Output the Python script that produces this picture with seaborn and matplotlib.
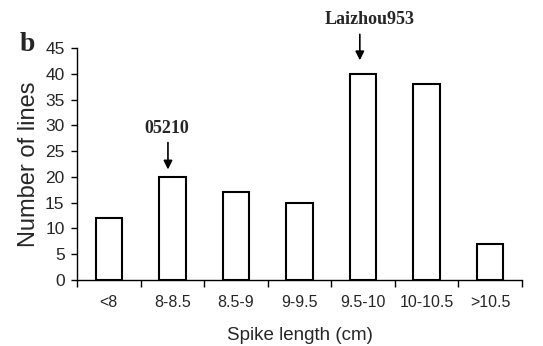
import matplotlib
matplotlib.use("Agg")
import matplotlib.pyplot as plt
import seaborn as sns
import pandas as pd
import numpy as np
from matplotlib.ticker import FixedLocator

categories = ["<8", "8-8.5", "8.5-9", "9-9.5", "9.5-10", "10-10.5", ">10.5"]
counts = [12, 20, 17, 15, 40, 38, 7]
yticks = [0, 5, 10, 15, 20, 25, 30, 35, 40, 45]

df = pd.DataFrame({"cat": categories, "n": counts})

sns.set_theme(style="white")
plt.rcParams["font.family"] = ["Liberation Sans", "DejaVu Sans"]

fig = plt.figure(figsize=(5.43, 3.46), dpi=100)
ax = fig.add_axes([0.142, 0.191, 0.819, 0.670])

sns.barplot(data=df, x="cat", y="n", ax=ax, color="white", edgecolor="black",
            linewidth=1.5, width=0.42, saturation=1)

ax.set_xlim(-0.5, len(categories) - 0.5)
ax.set_ylim(0, 45)
ax.set_yticks(yticks)
ax.set_yticklabels([str(v) for v in yticks], fontsize=12.5)
ax.set_xticks(range(len(categories)))
ax.set_xticklabels(categories, fontsize=11.5)
ax.xaxis.set_minor_locator(FixedLocator(np.arange(-0.5, len(categories), 1.0)))
ax.tick_params(axis="x", which="major", length=0, pad=11)
ax.tick_params(axis="x", which="minor", length=5, width=1, direction="out", color="black", bottom=True)
ax.tick_params(axis="y", which="major", length=4, width=1, direction="out", color="black", left=True, pad=5)

for s in ["top", "right"]:
    ax.spines[s].set_visible(False)
for s in ["left", "bottom"]:
    ax.spines[s].set_color("black")
    ax.spines[s].set_linewidth(1.0)

ax.set_ylabel("Number of lines", fontsize=17, labelpad=4)
ax.set_xlabel("Spike length (cm)", fontsize=13.5, labelpad=12)

# annotations
ann_font = dict(family=["Liberation Serif", "DejaVu Serif"], fontweight="bold", fontsize=13)
ax.annotate("", xy=(0.93, 20.9), xytext=(0.93, 27.2),
            arrowprops=dict(arrowstyle="-|>", color="black", lw=1.2, mutation_scale=13),
            annotation_clip=False)
ax.text(0.91, 29.3, "05210", ha="center", va="center", **ann_font)
ax.annotate("", xy=(3.95, 42.1), xytext=(3.95, 48.2),
            arrowprops=dict(arrowstyle="-|>", color="black", lw=1.2, mutation_scale=13),
            annotation_clip=False)
ax.text(4.1, 50.5, "Laizhou953", ha="center", va="center", clip_on=False, **ann_font)

fig.text(0.05, 0.872, "b", fontsize=20, fontweight="bold", ha="center", va="center",
         family=["Liberation Serif", "DejaVu Serif"])

fig.savefig("out.png", dpi=100, facecolor="white")
